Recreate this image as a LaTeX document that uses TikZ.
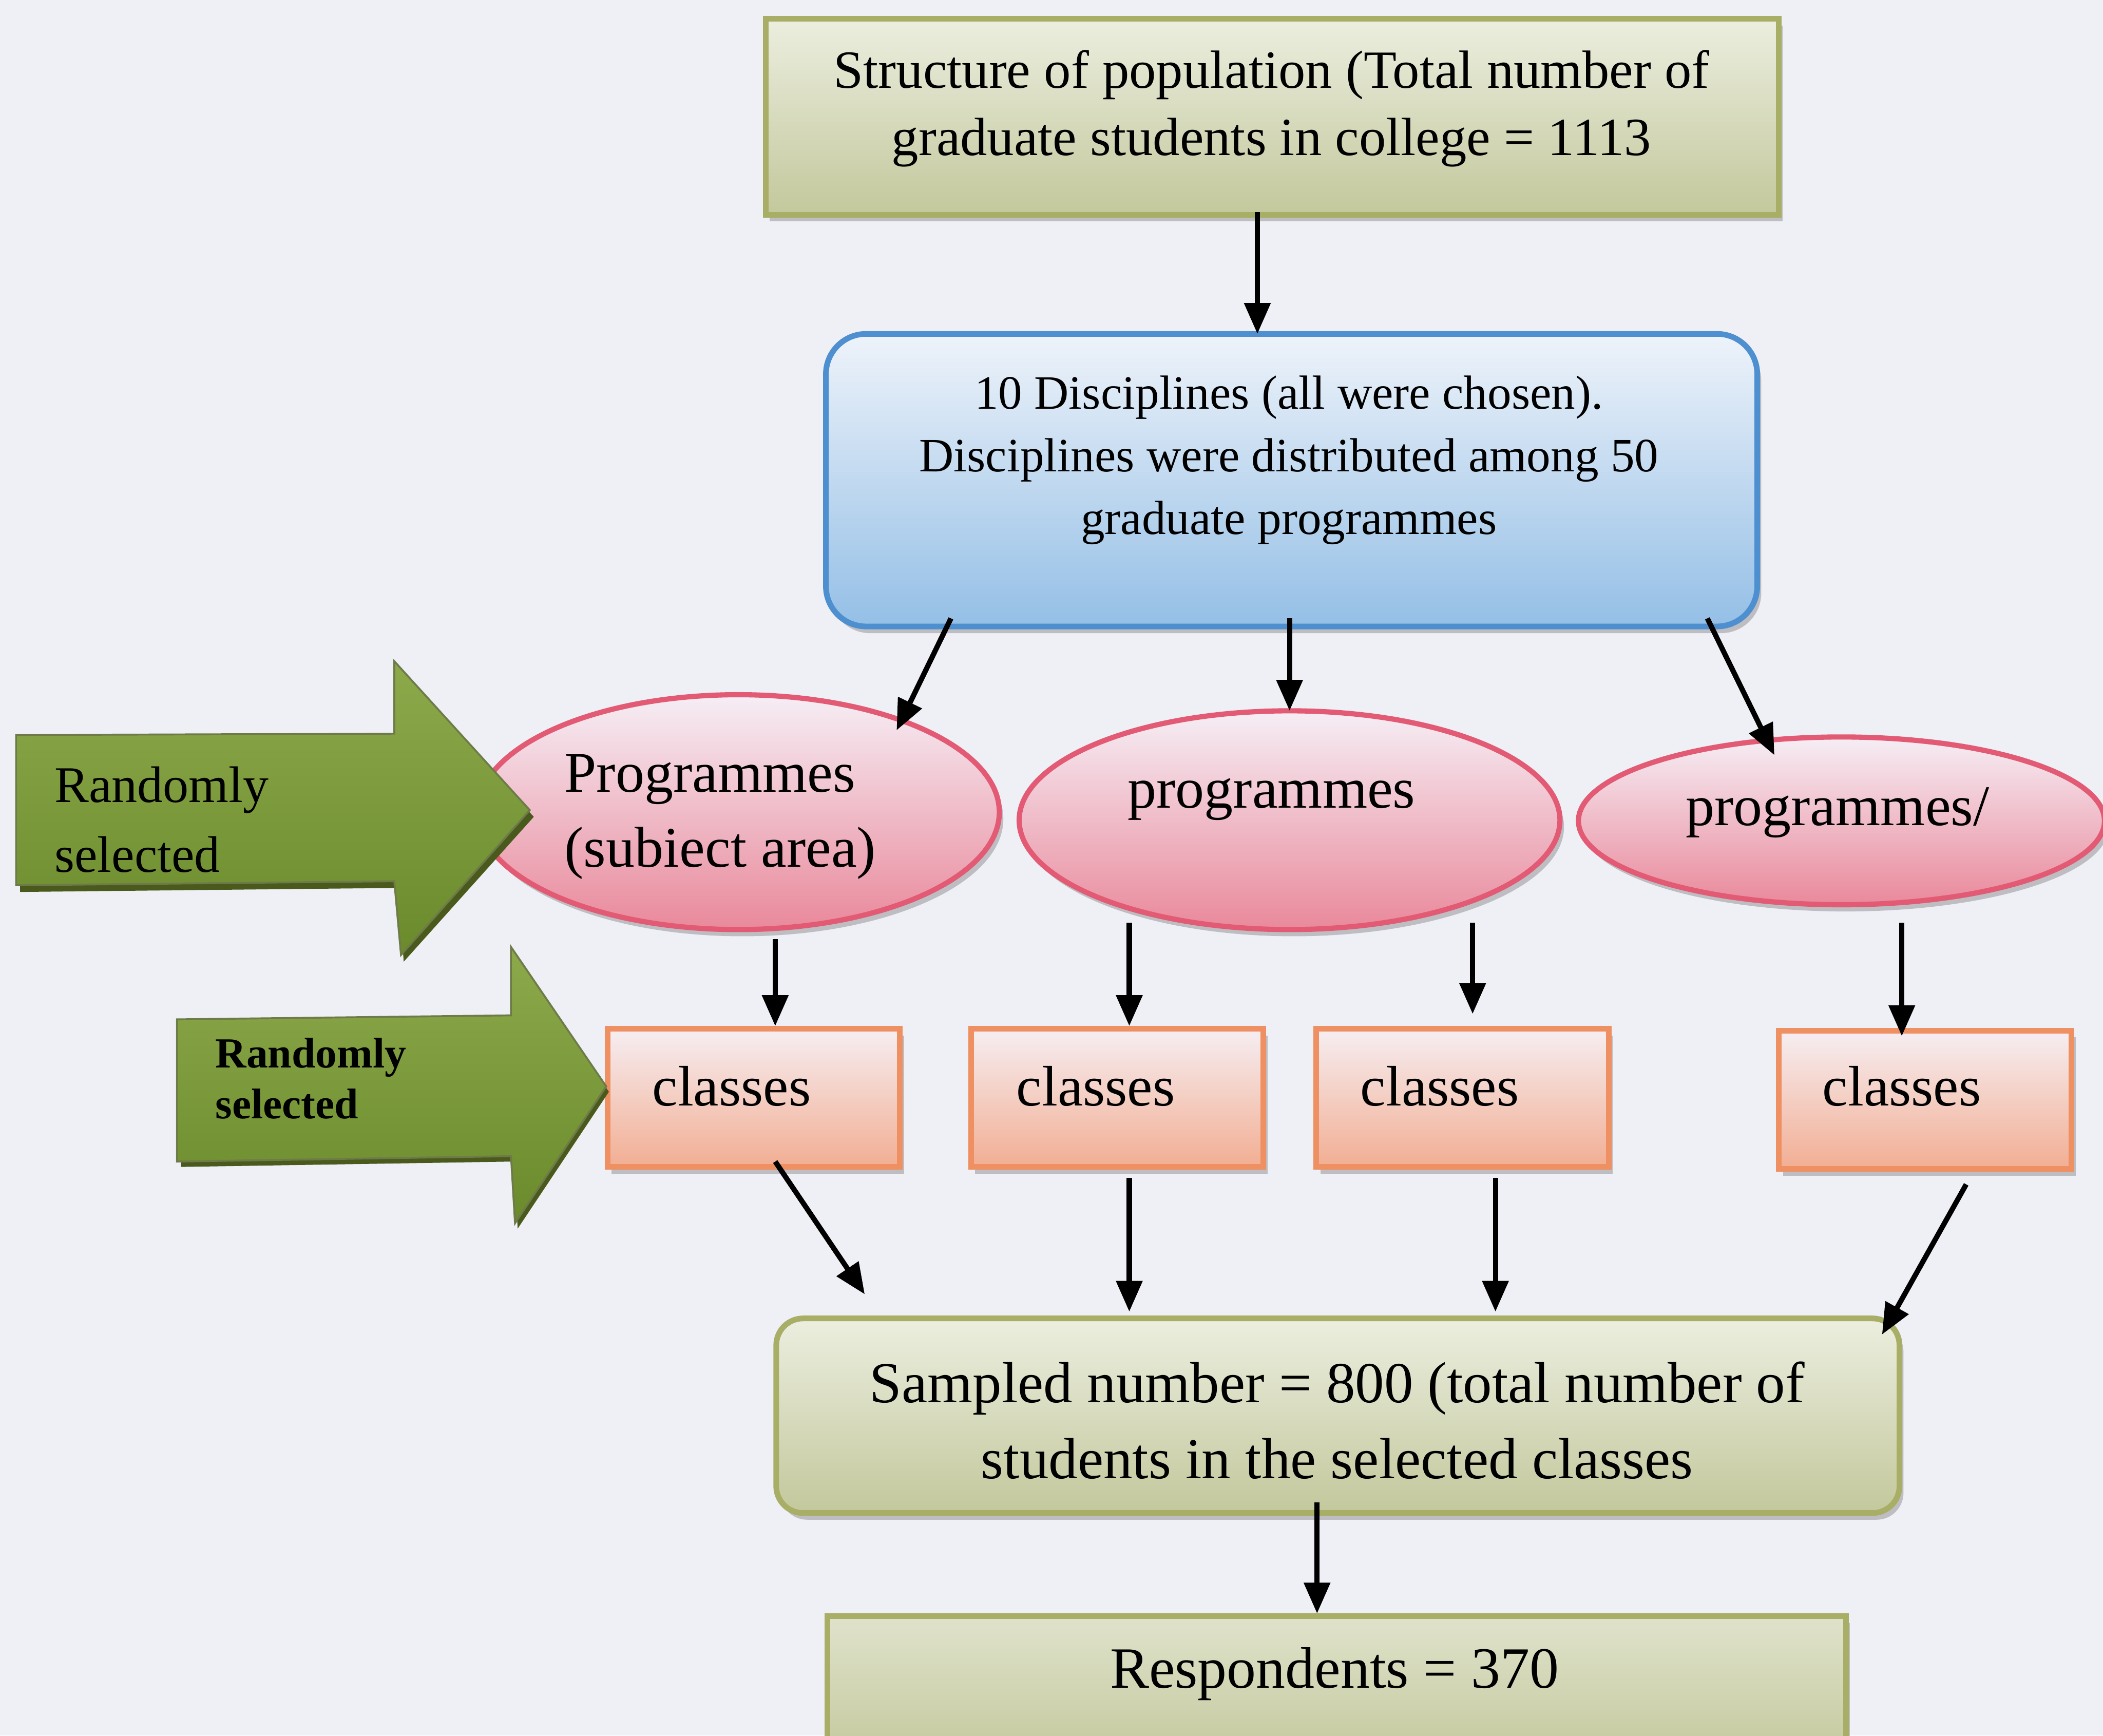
\documentclass[tikz,border=0pt]{standalone}
\usepackage{fontspec}
\setmainfont{Liberation Serif}
\usetikzlibrary{arrows.meta,calc,shapes.geometric,shadows}

\definecolor{pagebg}{HTML}{EFEFF6}
\definecolor{oliveTop}{HTML}{ECEEDF}
\definecolor{oliveBot}{HTML}{C3C89C}
\definecolor{oliveLine}{HTML}{A9AE66}
\definecolor{blueTop}{HTML}{EEF3FA}
\definecolor{blueBot}{HTML}{94BFE6}
\definecolor{blueLine}{HTML}{4E8FD0}
\definecolor{pinkTop}{HTML}{F6EEF5}
\definecolor{pinkBot}{HTML}{E9899B}
\definecolor{pinkLine}{HTML}{E25A73}
\definecolor{salmonTop}{HTML}{F6EEF2}
\definecolor{salmonBot}{HTML}{F2AE93}
\definecolor{salmonLine}{HTML}{EE9062}
\definecolor{greenTop}{HTML}{8DAA4B}
\definecolor{greenBot}{HTML}{6A8A2C}
\definecolor{greenDark}{HTML}{4A5A1C}

\begin{document}
\begin{tikzpicture}[x=0.01cm,y=-0.01cm,
  softshadow/.style={drop shadow={shadow xshift=0.03cm,shadow yshift=-0.05cm,opacity=0.3,fill=black!70}},
  olivebox/.style={draw=oliveLine,line width=1.2pt,outer sep=0pt,top color=oliveTop,bottom color=oliveBot,softshadow},
  discbox/.style={draw=blueLine,line width=1.2pt,outer sep=0pt,rounded corners=0.3cm,top color=blueTop,bottom color=blueBot,softshadow},
  progell/.style={ellipse,draw=pinkLine,line width=1.1pt,outer sep=0pt,top color=pinkTop,bottom color=pinkBot,inner sep=0pt,softshadow},
  classbox/.style={draw=salmonLine,line width=1.2pt,outer sep=0pt,top color=salmonTop,bottom color=salmonBot,softshadow,
                   minimum width=2.18cm,minimum height=1.03cm,inner sep=0pt},
  arr/.style={line width=1.1pt,-{Triangle[length=0.23cm,width=0.19cm]}},
  txt/.style={inner sep=0pt,align=center,text=black},
  bigarrow/.style={top color=greenTop,bottom color=greenBot,draw=greenDark!80,line width=0.4pt},
]
\useasboundingbox[fill=pagebg] (0,0) rectangle (1568,1294);

% ---- boxes ----
\node[olivebox,minimum width=7.55cm,minimum height=1.46cm] (top) at (948.5,87) {};
\node[discbox,minimum width=6.94cm,minimum height=2.18cm] (disc) at (963,358) {};

\node[progell,minimum width=3.89cm,minimum height=1.75cm] (e1) at (550.5,605.5) {};
\node[progell,minimum width=4.03cm,minimum height=1.63cm] (e2) at (961.5,611.5) {};
\node[progell,minimum width=3.92cm,minimum height=1.25cm] (e3) at (1373,612) {};

\node[classbox] (c1) at (562,818.5) {};
\node[classbox] (c2) at (833,818.5) {};
\node[classbox] (c3) at (1090.5,818.5) {};
\node[classbox] (c4) at (1435.5,820) {};

\node[olivebox,rounded corners=0.2cm,minimum width=8.37cm,minimum height=1.45cm] (samp) at (997.5,1055.5) {};
\node[olivebox,top color=oliveTop!70!oliveBot,minimum width=7.59cm,minimum height=1.10cm] (resp) at (996.5,1260) {};

% ---- green "randomly selected" arrows ----
\fill[greenDark] (14,553) -- (297,552) -- (297,498) -- (398,609) -- (301,717) -- (297,662) -- (15,665) -- cycle;
\path[bigarrow] (12,548) -- (294,547) -- (294,493) -- (395,604) -- (299,712) -- (294,657) -- (12,660) -- cycle;
\fill[greenDark] (134,764) -- (383,761) -- (383,710) -- (454,814) -- (386,916) -- (383,866) -- (135,870) -- cycle;
\path[bigarrow] (132,760) -- (381,757) -- (381,706) -- (452,810) -- (384,912) -- (381,862) -- (132,866) -- cycle;

% ---- texts ----
\node[txt,font=\fontsize{11.4}{14.2}\selectfont] (topT) at (948,81)
  {Structure of population (Total number of\\graduate students in college = 1113};
\node[txt,font=\fontsize{10.15}{13.3}\selectfont] (discT) at (961,343)
  {10 Disciplines (all were chosen).\\Disciplines were distributed among 50\\graduate programmes};
\node[txt,align=left,font=\fontsize{12.2}{15.9}\selectfont] (e1T) at (537,609)
  {Programmes\\(subiect area)};
\node[txt,font=\fontsize{12.2}{15.9}\selectfont] (e2T) at (948,596) {programmes};
\node[txt,font=\fontsize{12.2}{15.9}\selectfont] (e3T) at (1370,606) {programmes/};
\node[txt,font=\fontsize{12.1}{15}\selectfont] (c1T) at (545.5,810) {classes};
\node[txt,font=\fontsize{12.1}{15}\selectfont] (c2T) at (817,810) {classes};
\node[txt,font=\fontsize{12.1}{15}\selectfont] (c3T) at (1073.5,810) {classes};
\node[txt,font=\fontsize{12.1}{15}\selectfont] (c4T) at (1418,810) {classes};
\node[txt,font=\fontsize{12.3}{16.2}\selectfont] (sampT) at (997,1059)
  {Sampled number = 800 (total number of\\students in the selected classes};
\node[txt,font=\fontsize{12.4}{15}\selectfont] (respT) at (995,1248) {Respondents = 370};
\node[txt,align=left,anchor=west,font=\fontsize{10.9}{14.8}\selectfont] (rs1) at (40,611)
  {Randomly\\selected};
\node[txt,align=left,anchor=west,font=\bfseries\fontsize{9.1}{10.8}\selectfont] (rs2) at (160,804)
  {Randomly\\selected};

% ---- connectors ----
\draw[arr] ($(top.south)+(-11,-2)$) coordinate (t0) -- (t0 |- disc.north);
\draw[arr] ($(disc.south)+(-254,-6)$) -- ($(e1.center)+(118,-61)$);
\draw[arr] ($(e2.north |- disc.south)+(0,-6)$) -- (e2.north);
\draw[arr] ($(disc.south)+(310,-6)$) -- ($(e3.center)+(-50,-49)$);

\draw[arr] ($(e1.south)+(27.5,7)$) coordinate (p1) -- ($(p1 |- c1.north)+(0,-2)$);
\draw[arr] ($(e2.south)+(-119.5,-5)$) coordinate (p2) -- ($(p2 |- c2.north)+(0,-2)$);
\draw[arr] ($(e2.south)+(136.5,-5)$) coordinate (p3) -- ($(p3 |- c3.north)+(0,-11)$);
\draw[arr] ($(e3.south)+(45,13.5)$) coordinate (p4) -- ($(p4 |- c4.north)+(0,4)$);

\draw[arr] ($(c1.south)+(16,-4)$) -- ($(samp.north west)+(66,-18)$);
\draw[arr] ($(c2.south)+(9,8)$) coordinate (q2) -- ($(q2 |- samp.north)+(0,-5)$);
\draw[arr] ($(c3.south)+(24.5,8)$) coordinate (q3) -- ($(q3 |- samp.north)+(0,-5)$);
\draw[arr] ($(c4.south)+(30.5,11.5)$) -- ($(samp.north east)+(-13,12)$);

\draw[arr] ($(samp.south)+(-15.5,-8)$) coordinate (r0) -- ($(r0 |- resp.north)+(0,-2)$);
\end{tikzpicture}
\end{document}
